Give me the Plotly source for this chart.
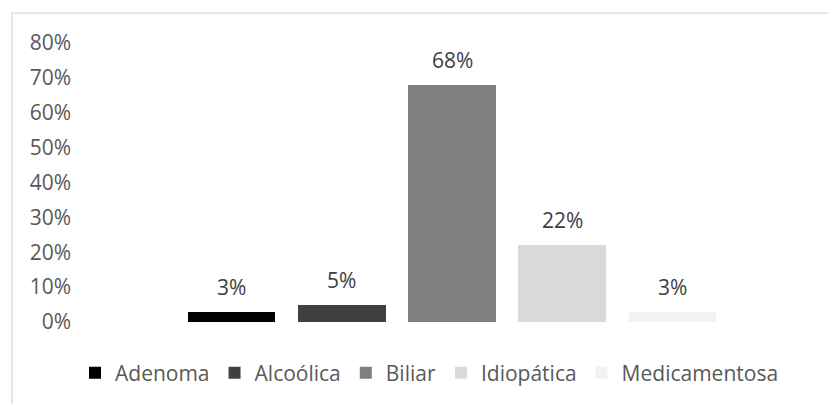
import plotly.graph_objects as go

# Causes and their shares
categories = ["Adenoma", "Alcoólica", "Biliar", "Idiopática", "Medicamentosa"]
shares = [0.03, 0.05, 0.68, 0.22, 0.03]
bar_colors = ["#000000", "#404040", "#7f7f7f", "#d9d9d9", "#f2f2f2"]
y_ticks = [0.0, 0.1, 0.2, 0.3, 0.4, 0.5, 0.6, 0.7, 0.8]
y_tick_labels = ["0%", "10%", "20%", "30%", "40%", "50%", "60%", "70%", "80%"]

FONT = "Open Sans"
AXIS_COLOR = "#595959"
LABEL_COLOR = "#404040"
FS = 21

fig = go.Figure()
for i, (name, val, col) in enumerate(zip(categories, shares, bar_colors)):
    fig.add_trace(go.Bar(
        x=[i], y=[val], name=name,
        marker=dict(color=col, line=dict(width=0)),
        width=0.795,
    ))
    fig.add_annotation(
        x=i, y=val, text=f"{val:.0%}", showarrow=False,
        yanchor="middle", yshift=25,
        font=dict(family=FONT, size=FS, color=LABEL_COLOR),
    )

W, H = 828, 404
ML, MR, MT, MB = 72, 28, 43, 81
plot_w = W - ML - MR
plot_h = H - MT - MB
STEP = 110.25  # pixels between neighbouring bars

# outer chart frame (light grey)
fig.add_shape(
    type="rect", xref="paper", yref="paper",
    x0=(12 - ML) / plot_w, x1=1.5,
    y0=-0.6, y1=1 + (MT - 13) / plot_h,
    line=dict(color="#d9d9d9", width=1.3), fillcolor="rgba(0,0,0,0)",
    layer="below",
)

left_units = (231.5 - ML) / STEP
fig.update_layout(
    width=W, height=H,
    margin=dict(l=ML, r=MR, t=MT, b=MB),
    paper_bgcolor="white", plot_bgcolor="white",
    font=dict(family=FONT, size=FS, color=AXIS_COLOR),
    showlegend=True,
    legend=dict(
        orientation="h", x=(75 - ML) / plot_w, xanchor="left",
        y=-(373 - (H - MB)) / plot_h, yanchor="middle",
        font=dict(family=FONT, size=FS, color=AXIS_COLOR),
        bgcolor="rgba(0,0,0,0)", itemclick=False,
    ),
    xaxis=dict(
        range=[-left_units, -left_units + plot_w / STEP],
        showticklabels=False, showgrid=False, zeroline=False,
        showline=False, ticks="", fixedrange=True,
    ),
    yaxis=dict(
        range=[0, 0.8], tickvals=y_ticks, ticktext=y_tick_labels,
        showgrid=False, zeroline=False, showline=False, ticks="",
        tickfont=dict(family=FONT, size=FS, color=AXIS_COLOR),
        fixedrange=True,
    ),
    bargap=0,
)

fig.write_html("out.html")
